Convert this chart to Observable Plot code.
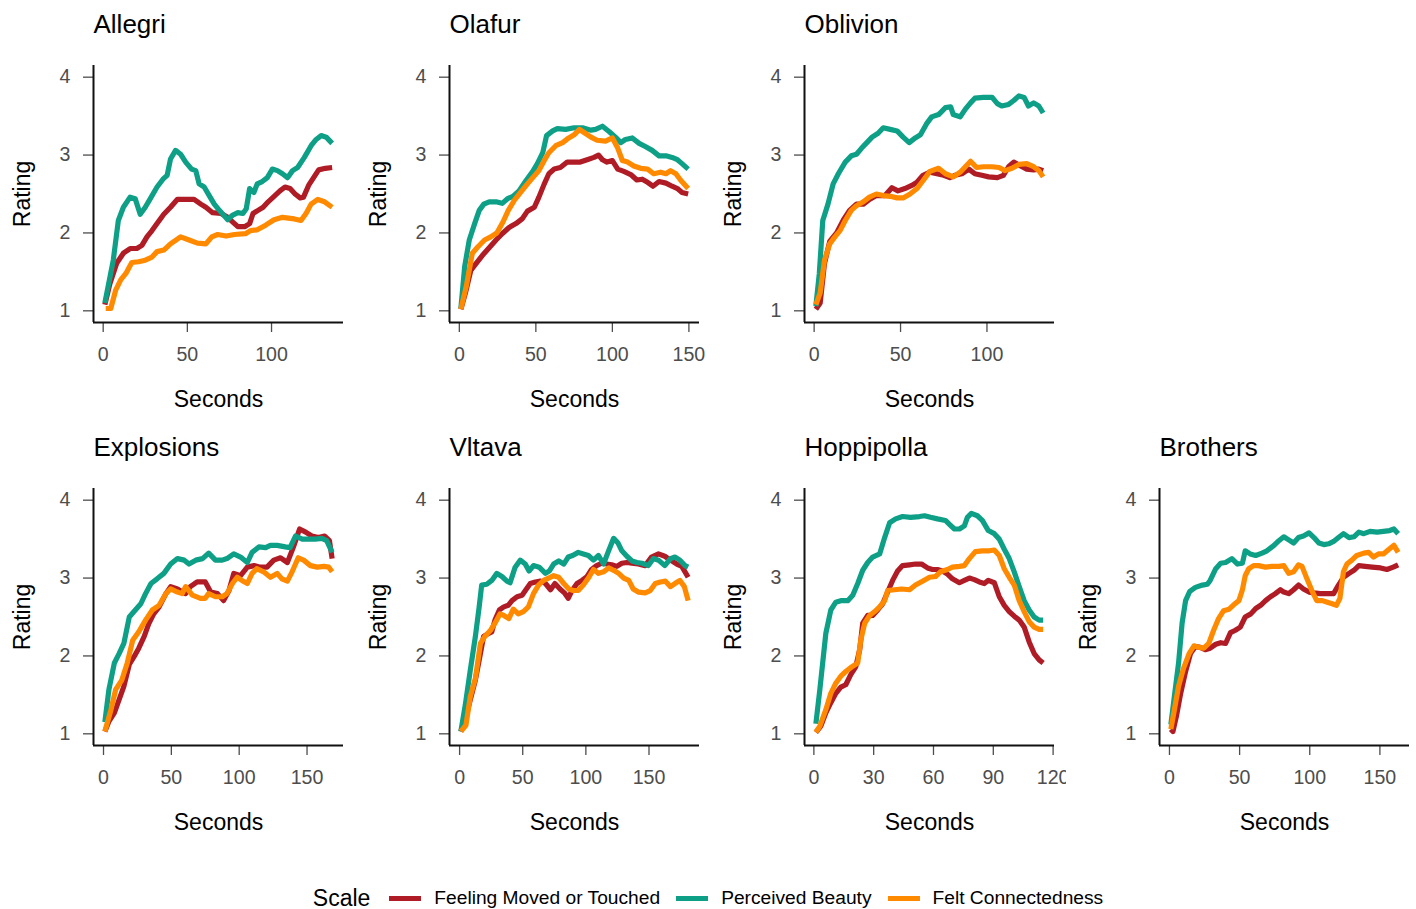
<!DOCTYPE html>
<html>
<head>
<meta charset="utf-8">
<script src="https://cdn.jsdelivr.net/npm/d3@7"></script>
<script src="https://cdn.jsdelivr.net/npm/@observablehq/plot@0.6"></script>
<style>
  html, body { margin: 0; padding: 0; background: white; }
  body { font-family: "Liberation Sans", Arial, Helvetica, sans-serif; }
  #root { position: relative; width: 1416px; height: 909px; overflow: hidden; background: white; }
  .panel { position: absolute; }
  #legend { position: absolute; left: 0; top: 884px; width: 1416px; height: 28px;
    display: flex; justify-content: center; align-items: center; color: #000; }
  #legend .title { font-size: 23px; margin-right: 19px; }
  #legend .key { width: 32px; height: 5px; margin-right: 13px; }
  #legend .lab { font-size: 19.2px; margin-right: 16px; }
  #legend .lab:last-child { margin-right: 0; }
</style>
</head>
<body>
<div id="root"></div>
<script>
// ---- Data ----
const scaleNames = ["Feeling Moved or Touched", "Perceived Beauty", "Felt Connectedness"];
const yTicks = [1, 2, 3, 4];

const allegriTicks = [0, 50, 100];
const allegriMoved = [[1,1.08],[4,1.35],[8,1.61],[12,1.74],[16,1.80],[20,1.80],[23,1.84],[26,1.95],[29,2.03],[32,2.12],[36,2.24],[40,2.33],[44,2.43],[49,2.43],[54,2.43],[58,2.37],[61,2.33],[65,2.26],[70,2.25],[74,2.20],[77,2.14],[80,2.08],[84,2.08],[87,2.12],[89,2.25],[92,2.29],[95,2.33],[98,2.40],[102,2.48],[105,2.54],[108,2.59],[111,2.57],[114,2.50],[117,2.45],[119,2.46],[122,2.61],[125,2.71],[128,2.81],[132,2.83],[136,2.84]];
const allegriBeauty = [[1,1.10],[6,1.65],[9,2.16],[12,2.33],[16,2.46],[19,2.44],[22,2.24],[25,2.33],[28,2.44],[32,2.59],[35.5,2.69],[38,2.74],[40,2.95],[43,3.06],[46,3.01],[49,2.91],[52.5,2.82],[55,2.80],[57,2.63],[60,2.59],[63,2.48],[66,2.37],[69,2.29],[74,2.17],[77,2.23],[80,2.26],[83,2.25],[85,2.31],[87,2.57],[89.5,2.52],[91.5,2.63],[94.5,2.66],[97.5,2.71],[100.5,2.82],[103.5,2.80],[106.5,2.76],[109.5,2.71],[112.5,2.80],[115.5,2.84],[119.5,2.97],[123.5,3.12],[126.5,3.20],[129.5,3.25],[132.5,3.23],[136,3.15]];
const allegriConnected = [[1.5,1.03],[4.5,1.03],[7.5,1.27],[10.5,1.40],[13.5,1.48],[17,1.62],[21,1.63],[25,1.65],[29,1.69],[32,1.76],[36,1.78],[40,1.86],[46,1.95],[51,1.91],[56,1.87],[61,1.86],[64.5,1.95],[68,1.98],[73,1.96],[78,1.98],[84.5,1.99],[87.5,2.03],[91.5,2.04],[96.5,2.10],[101.5,2.17],[106.5,2.20],[113.5,2.18],[117.5,2.16],[120.5,2.25],[123.5,2.37],[127.5,2.43],[131.5,2.40],[136,2.33]];

const olafurTicks = [0, 50, 100, 150];
const olafurMoved = [[1,1.02],[4,1.23],[7.5,1.52],[11,1.61],[15,1.71],[19.5,1.81],[24,1.91],[28,1.99],[32.5,2.07],[37,2.12],[41,2.18],[44.5,2.28],[49,2.33],[52,2.46],[55.5,2.63],[58.5,2.76],[62,2.82],[66,2.84],[70.5,2.91],[75,2.91],[79,2.91],[83.5,2.94],[88,2.97],[91,3.00],[93.5,2.94],[96.5,2.91],[100,2.93],[103.5,2.82],[107.5,2.79],[112,2.75],[116,2.68],[119.5,2.69],[123,2.65],[126.5,2.60],[130.5,2.66],[135,2.64],[139,2.60],[142.5,2.57],[145.5,2.52],[149.5,2.50]];
const olafurBeauty = [[1,1.03],[3.5,1.57],[6.5,1.91],[10,2.12],[13,2.29],[16,2.37],[19.5,2.40],[24,2.40],[28,2.38],[31.5,2.44],[35,2.47],[39,2.54],[43.5,2.67],[48,2.79],[51,2.89],[54.5,3.03],[57,3.25],[61,3.31],[64,3.34],[69.5,3.33],[75,3.35],[80.5,3.35],[86,3.32],[89,3.33],[93.5,3.37],[98,3.30],[102,3.23],[105.5,3.16],[108.5,3.20],[113,3.22],[117.5,3.15],[121.5,3.11],[126,3.06],[130.5,2.99],[135,2.99],[139,2.97],[142.5,2.94],[145.5,2.89],[149.5,2.82]];
const olafurConnected = [[1,1.02],[4.5,1.31],[8.5,1.74],[12,1.82],[16.5,1.91],[20.5,1.95],[24.5,2.00],[28.5,2.14],[32,2.29],[36,2.42],[40,2.52],[44.5,2.63],[48,2.71],[52,2.80],[55.5,2.93],[58.5,3.03],[63,3.12],[67.5,3.16],[71.5,3.22],[75,3.26],[78.5,3.33],[81.5,3.29],[86,3.23],[90,3.19],[95.5,3.18],[100,3.22],[103.5,3.09],[106.5,2.93],[110,2.91],[114,2.86],[118.5,2.83],[123,2.82],[127,2.76],[131.5,2.78],[135,2.76],[138,2.80],[141.5,2.76],[144.5,2.68],[149.5,2.57]];

const oblivionTicks = [0, 50, 100];
const oblivionMoved = [[1,1.02],[3.5,1.10],[6,1.61],[9,1.89],[13,2.00],[17,2.17],[20.5,2.29],[24.5,2.37],[28.5,2.37],[32,2.43],[36,2.48],[41,2.48],[45,2.58],[48.5,2.54],[52.5,2.57],[56.5,2.61],[59.5,2.65],[63,2.74],[67,2.78],[71,2.76],[75,2.74],[78.5,2.71],[81.5,2.74],[85.5,2.76],[89.5,2.82],[93,2.76],[97,2.74],[101,2.72],[106,2.71],[109.5,2.74],[112.5,2.85],[115.5,2.91],[119.5,2.86],[123,2.82],[127,2.81],[130,2.82],[132.5,2.80]];
const oblivionBeauty = [[1,1.06],[3,1.48],[5,2.16],[8,2.37],[11,2.63],[14,2.76],[18,2.91],[21.5,2.99],[24.5,3.01],[27.5,3.09],[30.5,3.16],[33.5,3.23],[37,3.28],[40,3.35],[44,3.33],[48,3.31],[51.5,3.23],[55,3.16],[58.5,3.22],[61.5,3.26],[65,3.40],[68,3.49],[72,3.52],[76,3.61],[79,3.62],[80.5,3.52],[84.5,3.49],[87.5,3.59],[90.5,3.67],[93,3.73],[98,3.74],[103,3.74],[106,3.66],[108.5,3.63],[112.5,3.65],[115.5,3.70],[118.5,3.76],[121.5,3.74],[124,3.63],[127,3.67],[130,3.63],[132.5,3.54]];
const oblivionConnected = [[1,1.08],[3.5,1.23],[6,1.65],[9,1.86],[12,1.95],[15,2.03],[18,2.16],[21.5,2.29],[24.5,2.35],[28.5,2.40],[32,2.46],[36,2.50],[40,2.48],[44,2.47],[48,2.45],[51.5,2.45],[55.5,2.50],[59.5,2.57],[63,2.67],[67,2.79],[72,2.83],[76,2.76],[80.5,2.72],[84.5,2.78],[87.5,2.85],[90.5,2.92],[94,2.84],[98,2.85],[103,2.85],[107,2.84],[110.5,2.80],[114.5,2.83],[118.5,2.88],[123,2.89],[127,2.85],[130,2.80],[132.5,2.72]];

const explosionsTicks = [0, 50, 100, 150];
const explosionsMoved = [[1,1.03],[4,1.16],[8,1.27],[11.5,1.44],[15,1.61],[19,1.89],[22.5,1.99],[26,2.10],[30,2.25],[33.5,2.42],[37,2.54],[41,2.63],[46,2.80],[49.5,2.89],[54.5,2.86],[60.5,2.80],[64,2.89],[69,2.95],[75,2.95],[79,2.82],[84,2.80],[88.5,2.71],[92.5,2.84],[96,3.06],[101,3.03],[106,3.14],[111,3.16],[115.5,3.14],[120.5,3.14],[125.5,3.23],[130.5,3.26],[135.5,3.20],[140,3.40],[144.5,3.63],[149,3.59],[153.5,3.54],[158.5,3.52],[163,3.54],[166.5,3.48],[168.5,3.25]];
const explosionsBeauty = [[1,1.15],[4,1.57],[8,1.91],[11.5,2.03],[15,2.16],[19,2.50],[22.5,2.57],[27.5,2.67],[31,2.80],[35,2.93],[39.5,2.99],[44.5,3.06],[49.5,3.18],[54.5,3.25],[59.5,3.23],[63,3.18],[68,3.23],[73,3.25],[77.5,3.32],[82.5,3.23],[87.5,3.23],[91,3.25],[96,3.31],[101,3.27],[106,3.20],[109.5,3.33],[114.5,3.40],[119.5,3.39],[123,3.42],[128,3.42],[134,3.40],[137.5,3.39],[141.5,3.54],[146.5,3.50],[151,3.50],[156,3.50],[161,3.51],[164.5,3.48],[168.5,3.33]];
const explosionsConnected = [[1,1.03],[5.5,1.31],[9,1.57],[13.5,1.69],[17.5,1.91],[21.5,2.20],[26,2.31],[31,2.46],[36,2.59],[41,2.65],[46,2.80],[49.5,2.86],[54.5,2.82],[58,2.80],[60.5,2.89],[65.5,2.78],[71.5,2.74],[75,2.74],[77.5,2.80],[82.5,2.76],[87.5,2.76],[91,2.80],[95,2.93],[98.5,3.01],[102,2.97],[106,2.93],[109.5,3.06],[113,3.12],[118,3.08],[123,3.01],[128,3.06],[131.5,2.99],[135.5,2.96],[139,3.08],[143.5,3.26],[147.5,3.23],[152.5,3.16],[157.5,3.14],[162.5,3.15],[166,3.14],[168.5,3.08]];

const vltavaTicks = [0, 50, 100, 150];
const vltavaMoved = [[1,1.03],[4.5,1.18],[8.5,1.44],[12.5,1.69],[16.5,2.03],[19,2.25],[23,2.29],[25.5,2.31],[28,2.46],[31.5,2.59],[35,2.63],[38.5,2.65],[41.5,2.71],[45.5,2.76],[49.5,2.78],[52.5,2.85],[56,2.93],[60,2.95],[64,2.96],[68,2.93],[72,2.85],[75.5,2.93],[79.5,2.86],[83,2.81],[86,2.74],[89,2.84],[93,2.93],[97,2.97],[101,3.02],[104.5,3.11],[108.5,3.16],[112.5,3.19],[116.5,3.18],[120.5,3.17],[124.5,3.15],[128.5,3.19],[132.5,3.20],[136.5,3.19],[141.5,3.18],[147,3.16],[152,3.27],[157.5,3.31],[162.5,3.28],[167,3.23],[172,3.18],[176,3.15],[181,3.01]];
const vltavaBeauty = [[1,1.03],[4.5,1.37],[8.5,1.82],[12.5,2.25],[15.5,2.63],[17.5,2.91],[21.5,2.92],[25.5,2.97],[29.5,3.06],[33.5,3.02],[37.5,2.96],[40,2.94],[44,3.14],[48,3.23],[52,3.18],[55,3.09],[58.5,3.16],[63,3.14],[68,3.06],[71,3.09],[74.5,3.18],[78.5,3.22],[82.5,3.18],[86,3.27],[89.5,3.29],[94,3.33],[98,3.31],[102,3.29],[106,3.23],[110,3.29],[114,3.18],[118,3.35],[122,3.51],[125.5,3.45],[128.5,3.35],[132.5,3.28],[136.5,3.22],[140.5,3.20],[144.5,3.19],[149.5,3.16],[153.5,3.25],[157.5,3.23],[162.5,3.16],[167,3.25],[170.5,3.27],[174.5,3.23],[178.5,3.16],[181,3.14]];
const vltavaConnected = [[1,1.03],[5,1.11],[8.5,1.48],[12.5,1.71],[16.5,2.16],[20,2.25],[24.5,2.33],[28,2.42],[32,2.54],[35,2.52],[39,2.48],[42.5,2.60],[46.5,2.54],[50.5,2.57],[54.5,2.63],[58.5,2.80],[62.5,2.91],[66.5,2.97],[70.5,3.00],[74.5,3.03],[78.5,3.01],[82.5,2.93],[86.5,2.86],[90,2.84],[94,2.84],[98,2.91],[102,3.00],[106,3.11],[110,3.06],[114,3.08],[118,3.13],[122,3.10],[126,3.06],[130,3.00],[134,2.97],[137.5,2.86],[141.5,2.82],[147,2.81],[151,2.84],[155,2.93],[159,2.95],[163,2.96],[167,2.89],[170.5,2.93],[174.5,2.97],[178,2.89],[181,2.71]];

const hoppipollaTicks = [0, 30, 60, 90, 120];
const hoppipollaMoved = [[1,1.02],[3.5,1.10],[6,1.27],[8.5,1.40],[11,1.52],[13.5,1.60],[16,1.63],[18.5,1.76],[21,1.86],[23,2.08],[24.5,2.42],[27,2.52],[29.5,2.52],[32,2.59],[34.5,2.67],[37,2.82],[39.5,2.97],[42,3.09],[44.5,3.16],[48,3.17],[51,3.18],[54,3.18],[57,3.13],[59.5,3.11],[62,3.11],[64.5,3.09],[67,3.05],[69.5,2.99],[73,2.94],[75.5,2.97],[78,3.00],[80.5,2.98],[83,2.95],[85.5,2.93],[87.5,2.97],[90.5,2.94],[93,2.76],[95.5,2.65],[98,2.57],[100.5,2.51],[103,2.46],[105.5,2.37],[108,2.18],[110.5,2.03],[113,1.95],[115,1.91]];
const hoppipollaBeauty = [[1,1.13],[3,1.57],[6,2.29],[8.5,2.59],[11,2.69],[13.5,2.71],[17,2.71],[19.5,2.78],[22,2.93],[24.5,3.10],[27,3.20],[29.5,3.27],[33,3.31],[35.5,3.52],[38,3.71],[41,3.76],[44.5,3.79],[48.5,3.78],[53,3.79],[55.5,3.80],[58.5,3.78],[62,3.76],[66,3.74],[68,3.69],[70.5,3.63],[73,3.63],[75.5,3.67],[77,3.78],[79,3.83],[82,3.80],[84.5,3.74],[87.5,3.61],[90.5,3.57],[93,3.50],[95.5,3.37],[98,3.25],[100.5,3.08],[103,2.89],[105.5,2.71],[108,2.59],[110.5,2.50],[113,2.46],[115,2.46]];
const hoppipollaConnected = [[1,1.02],[3,1.10],[6,1.31],[8.5,1.52],[11,1.65],[13.5,1.74],[16,1.80],[19,1.86],[22,1.91],[23.5,2.20],[25.5,2.42],[28,2.52],[30.5,2.57],[33,2.63],[35.5,2.71],[37,2.84],[40.5,2.85],[44,2.86],[48,2.85],[51,2.91],[54.5,2.96],[58,3.01],[61,3.02],[63.5,3.08],[67,3.11],[69.5,3.14],[73,3.15],[75.5,3.16],[78,3.25],[81,3.34],[84.5,3.35],[88,3.35],[90.5,3.36],[93,3.29],[95.5,3.12],[98,3.01],[100.5,2.91],[103,2.71],[105.5,2.57],[108,2.44],[110.5,2.37],[113,2.34],[115,2.34]];

const brothersTicks = [0, 50, 100, 150];
const brothersMoved = [[1,1.06],[2.5,1.03],[5,1.23],[8,1.52],[11.5,1.80],[15,2.03],[18.5,2.12],[22,2.11],[25.5,2.08],[29,2.10],[33,2.15],[36.5,2.17],[40,2.16],[43.5,2.30],[47,2.33],[50.5,2.37],[54,2.50],[58,2.54],[61.5,2.61],[65,2.65],[68.5,2.71],[72,2.76],[75.5,2.80],[79,2.85],[81.5,2.82],[85,2.80],[88.5,2.85],[92,2.91],[95.5,2.86],[99.5,2.82],[103,2.81],[107.5,2.80],[112.5,2.80],[117,2.80],[120.5,2.91],[124,3.01],[128,3.06],[131.5,3.10],[135,3.16],[139.5,3.15],[144.5,3.14],[150.5,3.13],[155,3.11],[159.5,3.14],[163,3.17]];
const brothersBeauty = [[1,1.12],[3.5,1.48],[6.5,1.91],[9,2.42],[11.5,2.71],[14.5,2.83],[18.5,2.88],[23.5,2.91],[27,2.92],[29,2.97],[33,3.12],[36.5,3.19],[40,3.20],[44.5,3.25],[48.5,3.18],[52,3.19],[54,3.35],[57.5,3.31],[61.5,3.29],[66,3.32],[69.5,3.35],[74.5,3.42],[78,3.48],[81.5,3.53],[85,3.49],[88.5,3.45],[92,3.52],[95.5,3.54],[99.5,3.58],[103,3.52],[106.5,3.45],[110,3.43],[113.5,3.44],[117,3.47],[120.5,3.52],[124,3.57],[128,3.52],[131.5,3.53],[135,3.59],[138.5,3.57],[143,3.60],[148,3.59],[152.5,3.60],[157,3.61],[160,3.63],[163,3.57]];
const brothersConnected = [[1,1.06],[3.5,1.31],[6.5,1.61],[10,1.84],[14,2.03],[17.5,2.13],[21,2.11],[24.5,2.10],[28,2.16],[31.5,2.33],[35,2.48],[38.5,2.58],[42.5,2.60],[46,2.66],[49.5,2.71],[52,2.85],[54,3.03],[56.5,3.12],[60,3.16],[63.5,3.16],[68.5,3.14],[73,3.15],[78,3.15],[81.5,3.16],[85,3.06],[88.5,3.08],[92,3.17],[94.5,3.15],[98,2.99],[101.5,2.84],[105,2.71],[109,2.71],[112.5,2.69],[116,2.67],[119,2.65],[121.5,2.74],[124,3.08],[126.5,3.18],[130,3.23],[133.5,3.29],[138.5,3.32],[142,3.33],[145.5,3.27],[149,3.31],[152.5,3.31],[156.5,3.37],[160,3.42],[163,3.33]];

// ---- Styling ----
const lineColors = ["#B01C25", "#0E9F87", "#FF8A00"];
const FONT = "'Liberation Sans', Arial, Helvetica, sans-serif";

const panels = [
  {title: "Allegri", ticks: allegriTicks, series: [allegriMoved, allegriBeauty, allegriConnected], row: 0, col: 0},
  {title: "Olafur", ticks: olafurTicks, series: [olafurMoved, olafurBeauty, olafurConnected], row: 0, col: 1},
  {title: "Oblivion", ticks: oblivionTicks, series: [oblivionMoved, oblivionBeauty, oblivionConnected], row: 0, col: 2},
  {title: "Explosions", ticks: explosionsTicks, series: [explosionsMoved, explosionsBeauty, explosionsConnected], row: 1, col: 0},
  {title: "Vltava", ticks: vltavaTicks, series: [vltavaMoved, vltavaBeauty, vltavaConnected], row: 1, col: 1},
  {title: "Hoppipolla", ticks: hoppipollaTicks, series: [hoppipollaMoved, hoppipollaBeauty, hoppipollaConnected], row: 1, col: 2},
  {title: "Brothers", ticks: brothersTicks, series: [brothersMoved, brothersBeauty, brothersConnected], row: 1, col: 3}
];

const colLefts = [0, 356, 711, 1066];
const rowTops = [0, 423];
const root = document.getElementById("root");

for (const p of panels) {
  const rows = p.series.flatMap((s, i) => s.map(([t, v]) => ({t, v, scale: scaleNames[i]})));
  const tmin = d3.min(rows, d => d.t), tmax = d3.max(rows, d => d.t);
  const pad = 0.05 * (tmax - tmin);
  const xDomain = [tmin - pad, tmax + pad];
  const yDomain = [0.85, 4.15];
  const width = p.col === 3 ? 1416 - colLefts[3] : 356;
  const plot = Plot.plot({
    width,
    height: 423,
    marginLeft: 93,
    marginRight: width - 93 - 250,
    marginTop: 65,
    marginBottom: 101,
    style: {fontFamily: FONT, background: "white", overflow: "hidden"},
    x: {domain: xDomain},
    y: {domain: yDomain},
    color: {domain: scaleNames, range: lineColors},
    marks: [
      Plot.axisY({ticks: yTicks, tickFormat: d => String(d), tickSize: 10, tickPadding: 13, fontSize: 19.6, label: null, color: "#4d4d4d", strokeWidth: 1.3}),
      Plot.axisX({ticks: p.ticks, tickFormat: d => String(d), tickSize: 10, tickPadding: 15, fontSize: 19.6, label: null, color: "#4d4d4d", strokeWidth: 1.3}),
      Plot.ruleX([xDomain[0]], {stroke: "#111", strokeWidth: 2}),
      Plot.ruleY([yDomain[0]], {stroke: "#111", strokeWidth: 2}),
      Plot.line(rows, {x: "t", y: "v", z: "scale", stroke: "scale", strokeWidth: 5.2, strokeLinejoin: "round", strokeLinecap: "butt"}),
      Plot.text([p.title], {text: d => d, frameAnchor: "top-left", dy: -41, textAnchor: "start", lineAnchor: "middle", fontSize: 26, fill: "#000"}),
      Plot.text(["Seconds"], {text: d => d, frameAnchor: "bottom", dy: 77, textAnchor: "middle", lineAnchor: "middle", fontSize: 23, fill: "#000"}),
      Plot.text(["Rating"], {text: d => d, frameAnchor: "left", dx: -71, rotate: -90, textAnchor: "middle", lineAnchor: "middle", fontSize: 23, fill: "#000"})
    ]
  });
  const div = document.createElement("div");
  div.className = "panel";
  div.style.left = colLefts[p.col] + "px";
  div.style.top = rowTops[p.row] + "px";
  div.appendChild(plot);
  root.appendChild(div);
}

// ---- Legend ----
const legend = document.createElement("div");
legend.id = "legend";
const lt = document.createElement("span");
lt.className = "title";
lt.textContent = "Scale";
legend.appendChild(lt);
scaleNames.forEach((name, i) => {
  const k = document.createElement("span");
  k.className = "key";
  k.style.background = lineColors[i];
  legend.appendChild(k);
  const l = document.createElement("span");
  l.className = "lab";
  l.textContent = name;
  legend.appendChild(l);
});
root.appendChild(legend);
</script>
</body>
</html>
